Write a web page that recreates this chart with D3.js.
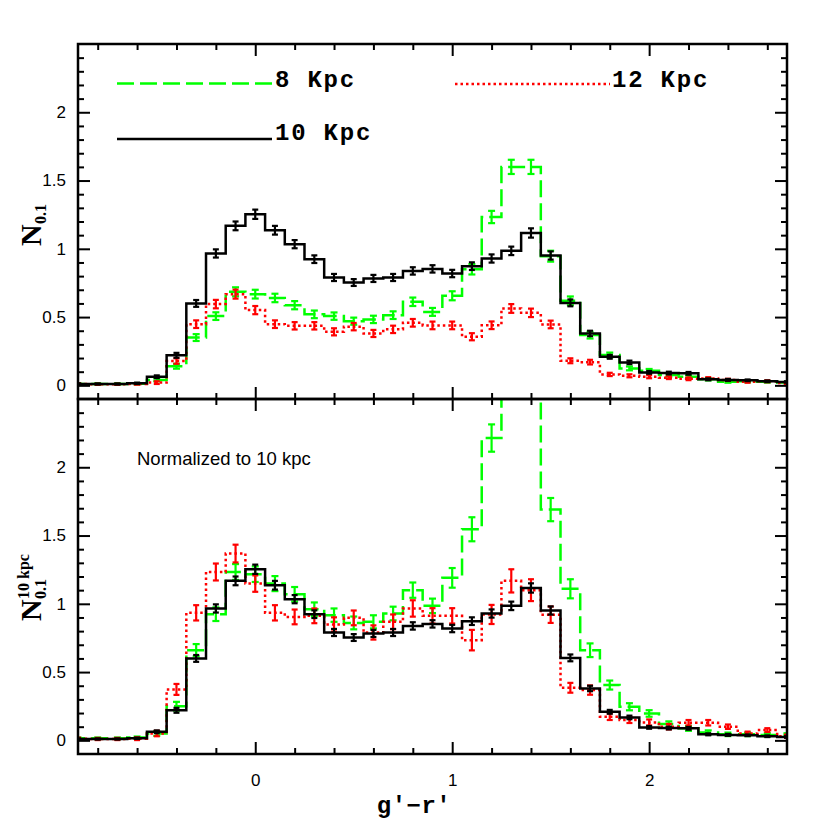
<!DOCTYPE html>
<html>
<head>
<meta charset="utf-8">
<script src="https://cdn.jsdelivr.net/npm/d3@7/dist/d3.min.js"></script>
<style>
  body { margin: 0; background: #fff; }
</style>
</head>
<body>
<svg id="chart" width="830" height="830"></svg>
<script>
// bin centres (g'-r'), bin width 0.1
var bins = [-0.9, -0.8, -0.7, -0.6, -0.5, -0.4, -0.3, -0.2, -0.1, 0.0,
            0.1, 0.2, 0.3, 0.4, 0.5, 0.6, 0.7, 0.8, 0.9, 1.0,
            1.1, 1.2, 1.3, 1.4, 1.5, 1.6, 1.7, 1.8, 1.9, 2.0,
            2.1, 2.2, 2.3, 2.4, 2.5, 2.6, 2.7];

// top panel: N_0.1
var kpc10 = [0.01, 0.01, 0.01, 0.015, 0.063, 0.22, 0.60, 0.966, 1.168, 1.253,
             1.136, 1.034, 0.924, 0.79, 0.753, 0.783, 0.79, 0.838, 0.853, 0.819,
             0.873, 0.929, 0.985, 1.116, 0.951, 0.604, 0.38, 0.209, 0.168, 0.095,
             0.09, 0.088, 0.044, 0.04, 0.037, 0.03, 0.025];
var kpc10Err = [0.004, 0.004, 0.004, 0.005, 0.01, 0.018, 0.025, 0.03, 0.032, 0.034,
                0.032, 0.03, 0.028, 0.026, 0.025, 0.026, 0.026, 0.027, 0.027, 0.027,
                0.028, 0.03, 0.031, 0.034, 0.03, 0.025, 0.02, 0.014, 0.013, 0.01,
                0.01, 0.01, 0.007, 0.007, 0.006, 0.006, 0.005];

var kpc8 = [0.01, 0.01, 0.01, 0.012, 0.04, 0.14, 0.35, 0.507, 0.685, 0.668,
            0.64, 0.587, 0.52, 0.507, 0.47, 0.483, 0.514, 0.612, 0.538, 0.656,
            0.85, 1.233, 1.6, 1.6, 0.946, 0.619, 0.368, 0.222, 0.124, 0.107,
            0.075, 0.063, 0.044, 0.026, 0.03, 0.026, 0.02];
var kpc8Err = [0.004, 0.004, 0.004, 0.005, 0.01, 0.018, 0.025, 0.028, 0.033, 0.032,
               0.031, 0.03, 0.028, 0.027, 0.026, 0.027, 0.028, 0.031, 0.029, 0.033,
               0.038, 0.045, 0.052, 0.052, 0.04, 0.032, 0.025, 0.018, 0.014, 0.013,
               0.011, 0.01, 0.008, 0.007, 0.007, 0.006, 0.006];

var kpc12 = [0.01, 0.008, 0.008, 0.01, 0.02, 0.178, 0.448, 0.595, 0.668, 0.551,
             0.448, 0.436, 0.436, 0.392, 0.43, 0.38, 0.41, 0.458, 0.439, 0.439,
             0.356, 0.44, 0.563, 0.531, 0.446, 0.18, 0.17, 0.08, 0.07, 0.063,
             0.056, 0.048, 0.05, 0.04, 0.026, 0.03, 0.017];
var kpc12Err = [0.004, 0.004, 0.004, 0.005, 0.01, 0.02, 0.028, 0.031, 0.033, 0.03,
                0.028, 0.027, 0.027, 0.026, 0.027, 0.026, 0.027, 0.028, 0.028, 0.028,
                0.026, 0.028, 0.032, 0.031, 0.028, 0.018, 0.017, 0.012, 0.011, 0.011,
                0.01, 0.01, 0.01, 0.008, 0.007, 0.007, 0.006];

// bottom panel: normalized to 10 kpc
var kpc8Norm = [0.015, 0.015, 0.015, 0.02, 0.05, 0.25, 0.66, 0.924, 1.233, 1.217,
                1.148, 1.07, 0.96, 0.917, 0.86, 0.868, 0.929, 1.1, 0.985, 1.19,
                1.546, 2.214, 2.9, 2.9, 1.69, 1.11, 0.66, 0.405, 0.246, 0.197,
                0.119, 0.088, 0.058, 0.044, 0.044, 0.04, 0.04];
var kpc8NormErr = [0.006, 0.006, 0.006, 0.008, 0.017, 0.032, 0.045, 0.05, 0.058, 0.057,
                   0.055, 0.053, 0.05, 0.049, 0.047, 0.048, 0.05, 0.056, 0.053, 0.072,
                   0.088, 0.1, 0.1, 0.1, 0.085, 0.07, 0.05, 0.033, 0.026, 0.024,
                   0.02, 0.018, 0.015, 0.013, 0.013, 0.012, 0.012];

var kpc12Norm = [0.012, 0.01, 0.01, 0.012, 0.05, 0.373, 0.934, 1.233, 1.368, 1.148,
                 0.934, 0.904, 0.912, 0.849, 0.897, 0.79, 0.868, 0.966, 0.912, 0.912,
                 0.734, 0.922, 1.168, 1.1, 0.92, 0.385, 0.368, 0.173, 0.149, 0.131,
                 0.1, 0.129, 0.129, 0.1, 0.05, 0.075, 0.03];
var kpc12NormErr = [0.008, 0.008, 0.008, 0.01, 0.02, 0.04, 0.056, 0.062, 0.065, 0.06,
                    0.056, 0.054, 0.054, 0.052, 0.054, 0.052, 0.054, 0.06, 0.056, 0.056,
                    0.075, 0.07, 0.085, 0.08, 0.06, 0.036, 0.034, 0.024, 0.022, 0.022,
                    0.02, 0.02, 0.02, 0.016, 0.014, 0.014, 0.012];

var yMajor = [0, 0.5, 1, 1.5, 2];
var xMajor = [0, 1, 2];

(function() {
var svg = d3.select("#chart");
var pLeft = 78, pRight = 787, pTop = 44, pMid = 399, pBottom = 754;

var x = d3.scaleLinear().domain([-0.9, 2.7]).range([pLeft, pRight]);
var yTop = d3.scaleLinear().domain([-0.1, 2.5]).range([pMid, pTop]);
var yBot = d3.scaleLinear().domain([-0.1, 2.5]).range([pBottom, pMid]);

var defs = svg.append("defs");
defs.append("clipPath").attr("id", "clip-top")
  .append("rect").attr("x", pLeft).attr("y", pTop).attr("width", pRight - pLeft).attr("height", pMid - pTop);
defs.append("clipPath").attr("id", "clip-bot")
  .append("rect").attr("x", pLeft).attr("y", pMid).attr("width", pRight - pLeft).attr("height", pBottom - pMid);

var GREEN = "#00ff00", RED = "#ff0000", BLACK = "#000000";

function drawSeries(g, y, vals, errs, color, dash, cap) {
  var pts = vals.map(function(v, i) { return [bins[i] - 0.05, v]; });
  pts.push([bins[bins.length - 1] + 0.05, vals[vals.length - 1]]);
  var line = d3.line()
    .x(function(d) { return x(d[0]); })
    .y(function(d) { return y(d[1]); })
    .curve(d3.curveStepAfter);

  g.append("path")
    .attr("d", line(pts))
    .attr("fill", "none")
    .attr("stroke", color)
    .attr("stroke-width", 2.5)
    .attr("stroke-dasharray", dash);

  var eb = g.append("g").attr("stroke", color).attr("stroke-width", 2.2);
  vals.forEach(function(v, i) {
    var cx = x(bins[i]);
    eb.append("line").attr("x1", cx).attr("x2", cx)
      .attr("y1", y(v - errs[i])).attr("y2", y(v + errs[i]));
    eb.append("line").attr("x1", cx - cap).attr("x2", cx + cap)
      .attr("y1", y(v - errs[i])).attr("y2", y(v - errs[i]));
    eb.append("line").attr("x1", cx - cap).attr("x2", cx + cap)
      .attr("y1", y(v + errs[i])).attr("y2", y(v + errs[i]));
  });
}

function drawAxes(y, y0, y1, withLabels) {
  var minorY = d3.range(0, 2.45, 0.1).filter(function(v) {
    return yMajor.every(function(m) { return Math.abs(m - v) > 1e-6; });
  });
  var minorX = [-0.8, -0.6, -0.4, -0.2, 0.2, 0.4, 0.6, 0.8, 1.2, 1.4, 1.6, 1.8, 2.2, 2.4, 2.6];

  function style(g) {
    g.select(".domain").remove();
    g.selectAll(".tick line").attr("stroke", "#000").attr("stroke-width", 2);
    g.selectAll(".tick text").attr("fill", "#000")
      .attr("font-family", "Liberation Sans, Arial, sans-serif").attr("font-size", 17);
  }

  svg.append("g").attr("transform", "translate(" + pLeft + ",0)")
    .call(d3.axisLeft(y).tickValues(yMajor).tickSize(-12).tickPadding(12)
      .tickFormat(d3.format("")))
    .call(style);
  svg.append("g").attr("transform", "translate(" + pLeft + ",0)")
    .call(d3.axisLeft(y).tickValues(minorY).tickSize(-6).tickFormat(""))
    .call(style);
  svg.append("g").attr("transform", "translate(" + pRight + ",0)")
    .call(d3.axisRight(y).tickValues(yMajor).tickSize(-12).tickFormat(""))
    .call(style);
  svg.append("g").attr("transform", "translate(" + pRight + ",0)")
    .call(d3.axisRight(y).tickValues(minorY).tickSize(-6).tickFormat(""))
    .call(style);

  svg.append("g").attr("transform", "translate(0," + y0 + ")")
    .call(d3.axisTop(x).tickValues(xMajor).tickSize(-12).tickFormat(""))
    .call(style);
  svg.append("g").attr("transform", "translate(0," + y0 + ")")
    .call(d3.axisTop(x).tickValues(minorX).tickSize(-6).tickFormat(""))
    .call(style);
  svg.append("g").attr("transform", "translate(0," + y1 + ")")
    .call(d3.axisBottom(x).tickValues(xMajor).tickSize(-12).tickPadding(20)
      .tickFormat(withLabels ? d3.format("") : ""))
    .call(style);
  svg.append("g").attr("transform", "translate(0," + y1 + ")")
    .call(d3.axisBottom(x).tickValues(minorX).tickSize(-6).tickFormat(""))
    .call(style);
}

// top panel
var gTop = svg.append("g").attr("clip-path", "url(#clip-top)");
drawSeries(gTop, yTop, kpc8, kpc8Err, GREEN, "17,6", 3.5);
drawSeries(gTop, yTop, kpc12, kpc12Err, RED, "2.5,3", 3);
drawSeries(gTop, yTop, kpc10, kpc10Err, BLACK, null, 3);

// bottom panel
var gBot = svg.append("g").attr("clip-path", "url(#clip-bot)");
drawSeries(gBot, yBot, kpc8Norm, kpc8NormErr, GREEN, "17,6", 3.5);
drawSeries(gBot, yBot, kpc12Norm, kpc12NormErr, RED, "2.5,3", 3);
drawSeries(gBot, yBot, kpc10, kpc10Err, BLACK, null, 3);

drawAxes(yTop, pTop, pMid, false);
drawAxes(yBot, pMid, pBottom, true);

// frames
svg.append("rect").attr("x", pLeft).attr("y", pTop).attr("width", pRight - pLeft).attr("height", pMid - pTop)
  .attr("fill", "none").attr("stroke", "#000").attr("stroke-width", 2.5);
svg.append("rect").attr("x", pLeft).attr("y", pMid).attr("width", pRight - pLeft).attr("height", pBottom - pMid)
  .attr("fill", "none").attr("stroke", "#000").attr("stroke-width", 2.5);

// legend
var legendFont = "Liberation Mono, Courier New, monospace";
var legend = [
  { label: "8 Kpc",  color: GREEN, dash: "17,6",  x0: 117, x1: 273, ly: 83.5, tx: 275, ty: 87 },
  { label: "12 Kpc", color: RED,   dash: "2.5,3", x0: 455, x1: 610, ly: 84,   tx: 612, ty: 87 },
  { label: "10 Kpc", color: BLACK, dash: null,    x0: 117, x1: 272, ly: 139,  tx: 275, ty: 140 }
];
legend.forEach(function(d) {
  svg.append("line").attr("x1", d.x0).attr("x2", d.x1).attr("y1", d.ly).attr("y2", d.ly)
    .attr("stroke", d.color).attr("stroke-width", 2.5).attr("stroke-dasharray", d.dash);
  svg.append("text").attr("x", d.tx).attr("y", d.ty)
    .attr("font-family", legendFont).attr("font-weight", "bold")
    .attr("font-size", 24).attr("letter-spacing", 1.8)
    .text(d.label);
});

svg.append("text").attr("x", 137).attr("y", 465)
  .attr("font-family", "Liberation Sans, Arial, sans-serif").attr("font-size", 18.5)
  .text("Normalized to 10 kpc");

// x title
svg.append("text").attr("x", 414).attr("y", 813)
  .attr("text-anchor", "middle")
  .attr("font-family", legendFont).attr("font-weight", "bold")
  .attr("font-size", 24).attr("letter-spacing", 0.5)
  .text("g'\u2212r'");

// y titles
var serif = "Liberation Serif, Times New Roman, serif";
var t1 = svg.append("g").attr("transform", "translate(41,246) rotate(-90)")
  .attr("font-family", serif).attr("font-weight", "bold");
t1.append("text").attr("x", 0).attr("y", 0).attr("font-size", 30).text("N");
t1.append("text").attr("x", 22).attr("y", 5).attr("font-size", 16).text("0.1");

var t2 = svg.append("g").attr("transform", "translate(41,621) rotate(-90)")
  .attr("font-family", serif).attr("font-weight", "bold");
t2.append("text").attr("x", 0).attr("y", 0).attr("font-size", 30).text("N");
t2.append("text").attr("x", 22).attr("y", 5).attr("font-size", 16).text("0.1");
t2.append("text").attr("x", 22).attr("y", -12).attr("font-size", 16).text("10 kpc");
})();
</script>
</body>
</html>
